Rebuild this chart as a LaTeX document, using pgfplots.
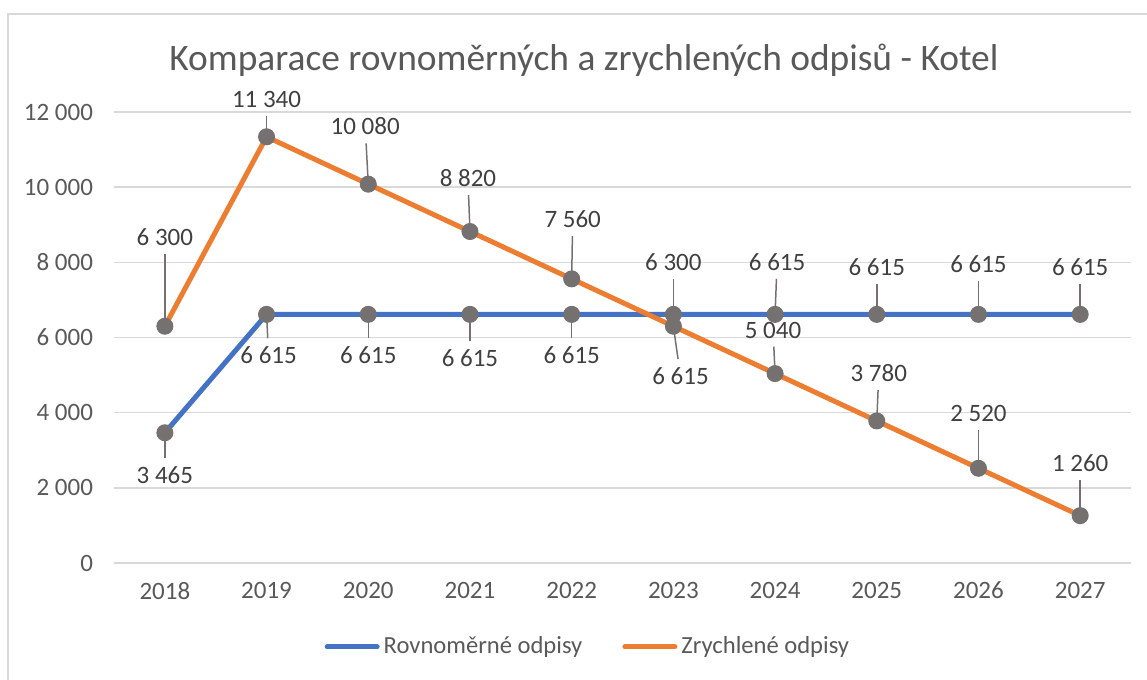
\documentclass[border=0pt]{standalone}
\usepackage{fontspec}
\setmainfont{Carlito}
\usepackage{pgfplots}
\pgfplotsset{compat=1.18}

\definecolor{rblue}{HTML}{4472C4}
\definecolor{zorange}{HTML}{ED7D31}
\definecolor{mgray}{HTML}{767171}
\definecolor{txt}{HTML}{595959}
\definecolor{lbltxt}{HTML}{404040}
\definecolor{gridc}{HTML}{D9D9D9}

\tikzset{
  lbl/.style={font=\fontsize{12.5}{14}\selectfont, text=lbltxt, inner xsep=1pt, inner ysep=4pt},
  leader/.style={draw=mgray, line width=0.75pt},
}
% point x, point y, label x, label y, text
\newcommand{\lab}[5]{%
  \node[lbl] (n) at (axis cs:#3,#4) {#5};
  \draw[leader] (axis cs:#1,#2) -- (n);
}

\begin{document}
\begin{tikzpicture}
\begin{axis}[
  scale only axis,
  width=508.5pt, height=225.5pt,
  xmin=-0.5, xmax=9.5,
  ymin=0, ymax=12000,
  xtick={0,...,9},
  xticklabels={2018,2019,2020,2021,2022,2023,2024,2025,2026,2027},
  ytick={0,2000,...,12000},
  yticklabels={0,2 000,4 000,6 000,8 000,10 000,12 000},
  scaled y ticks=false,
  major tick length=0pt,
  axis line style={draw=none},
  ymajorgrids,
  grid style={draw=gridc, line width=0.75pt},
  tick label style={font=\fontsize{12.5}{14}\selectfont, text=txt},
  yticklabel style={xshift=-7pt},
  xticklabel style={yshift=-6pt},
  legend style={at={(0.465,-0.186)}, anchor=center, draw=none, fill=none,
    font=\fontsize{12.3}{14}\selectfont, text=txt,
    /tikz/every odd column/.append style={column sep=2pt},
    /tikz/every even column/.append style={column sep=20pt},
    nodes={inner xsep=0pt}},
  legend columns=2,
  legend image code/.code={\draw[line width=2.5pt, line cap=round] (1.25pt,0pt) -- (26.25pt,0pt);},
  clip=false,
]
% chart frame (only left and top edges are visible)
\draw[gridc, line width=1pt] (rel axis cs:-0.1042,-0.27) -- (rel axis cs:-0.1042,1.2173) -- (rel axis cs:1.03,1.2173);
\coordinate (bbl) at (rel axis cs:-0.1121,-0.2594);
\coordinate (btr) at (rel axis cs:1.0157,1.2483);
\node[anchor=base, font=\fontsize{18.7}{22}\selectfont, text=txt] at (rel axis cs:0.462,1.093)
  {Komparace rovnoměrných a zrychlených odpisů - Kotel};

\addplot[rblue, line width=2.5pt, mark=*, mark size=4pt,
  mark options={draw=mgray, fill=mgray, line width=0.5pt}]
  coordinates {(0,3465) (1,6615) (2,6615) (3,6615) (4,6615) (5,6615) (6,6615) (7,6615) (8,6615) (9,6615)};
\addlegendentry{Rovnoměrné odpisy}
\addplot[zorange, line width=2.5pt, mark=*, mark size=4pt,
  mark options={draw=mgray, fill=mgray, line width=0.5pt}]
  coordinates {(0,6300) (1,11340) (2,10080) (3,8820) (4,7560) (5,6300) (6,5040) (7,3780) (8,2520) (9,1260)};
\addlegendentry{Zrychlené odpisy}

% data labels, Zrychlené odpisy
\lab{0}{6300}{0}{8670}{6 300}
\lab{1}{11340}{1}{12340}{11 340}
\lab{2}{10080}{1.97}{11620}{10 080}
\lab{3}{8820}{2.98}{10240}{8 820}
\lab{4}{7560}{4.01}{9150}{7 560}
\lab{5}{6300}{5.07}{4975}{6 615}
\lab{6}{5040}{5.98}{6200}{5 040}
\lab{7}{3780}{7.02}{5055}{3 780}
\lab{8}{2520}{8}{3990}{2 520}
\lab{9}{1260}{9}{2660}{1 260}
% data labels, Rovnoměrné odpisy
\lab{0}{3465}{0}{2340}{3 465}
\lab{1}{6615}{1.02}{5530}{6 615}
\lab{2}{6615}{2}{5530}{6 615}
\lab{3}{6615}{3}{5450}{6 615}
\lab{4}{6615}{4}{5530}{6 615}
\lab{5}{6615}{5}{8010}{6 300}
\lab{6}{6615}{6.02}{8010}{6 615}
\lab{7}{6615}{7}{7875}{6 615}
\lab{8}{6615}{8}{7950}{6 615}
\lab{9}{6615}{9}{7875}{6 615}
\end{axis}
\pgfresetboundingbox
\path[use as bounding box] (bbl) rectangle (btr);
\end{tikzpicture}
\end{document}
